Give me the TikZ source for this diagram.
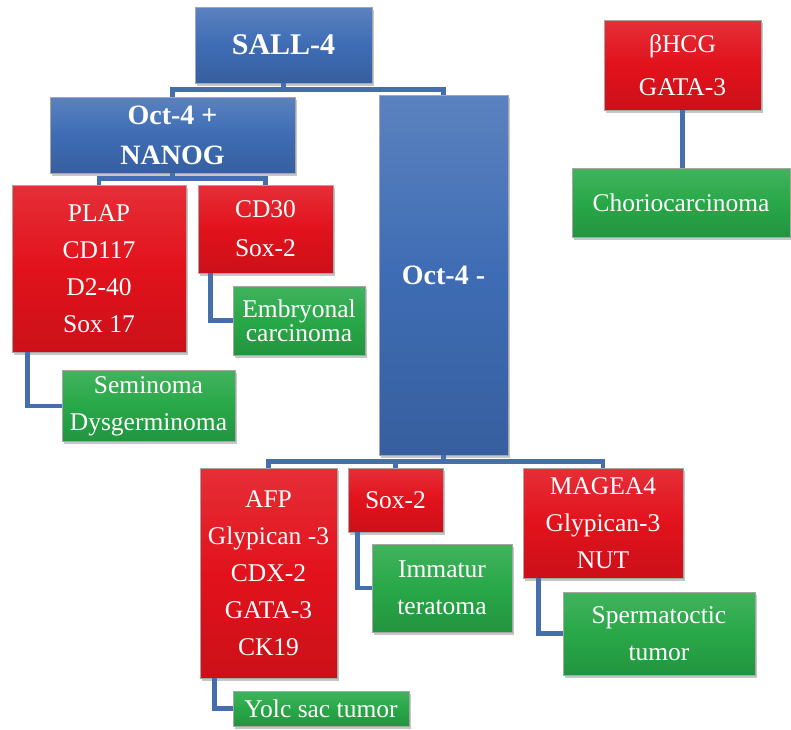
\documentclass[tikz,border=0pt]{standalone}
\usepackage{fontspec}
\setmainfont{Liberation Serif}
\usepackage{tikz}
\usetikzlibrary{shadows}
\definecolor{boxblue}{RGB}{62,108,180}
\definecolor{boxred}{RGB}{226,18,28}
\definecolor{boxgreen}{RGB}{40,168,72}
\definecolor{linkblue}{RGB}{68,110,172}
\tikzset{
	box/.style={
		inner sep=0pt,
		align=center,
		text=white,
		draw=black!35, line width=0.6pt,
		drop shadow={shadow xshift=2pt, shadow yshift=-2.5pt, opacity=.45},
	},
	bluebox/.style={
		box,
		top color=boxblue!85!white, bottom color=boxblue!88!black,
		middle color=boxblue,
		font=\bfseries\fontsize{28}{40}\selectfont,
	},
	redbox/.style={
		box,
		top color=boxred!88!white, bottom color=boxred!90!black,
		middle color=boxred,
		font=\fontsize{25.5}{37}\selectfont,
	},
	greenbox/.style={
		box,
		top color=boxgreen!88!white, bottom color=boxgreen!88!black,
		middle color=boxgreen,
		font=\fontsize{25.5}{37}\selectfont,
	},
	link/.style={
		draw=linkblue, line width=4.5pt,
	},
}

\begin{document}
\begin{tikzpicture}[x=1pt,y=-1pt]
			\useasboundingbox (0,0) rectangle (791,729);
			
			% Markers
			\node[bluebox, minimum width=177pt, minimum height=76pt, font=\bfseries\fontsize{30}{40}\selectfont] (sall) at (283.5,45) {SALL-4};
			\node[bluebox, minimum width=245pt, minimum height=76pt] (octp) at (172.5,135) {Oct-4 +\\NANOG};
			\node[bluebox, minimum width=129pt, minimum height=360pt] (octm) at (443.5,275) {Oct-4 -};
			\node[redbox, minimum width=157pt, minimum height=90pt, font=\fontsize{25.5}{43}\selectfont] (hcg) at (682.5,65) {βHCG\\GATA-3};
			
			\node[redbox, minimum width=174pt, minimum height=167pt] (plap) at (99,268.5) {PLAP\\CD117\\D2-40\\Sox 17};
			\node[redbox, minimum width=135pt, minimum height=88pt, font=\fontsize{25.5}{39}\selectfont] (cd30) at (265.5,229) {CD30\\Sox-2};
			\node[redbox, minimum width=137pt, minimum height=210pt] (afp) at (268.5,573) {AFP\\Glypican -3\\CDX-2\\GATA-3\\CK19};
			\node[redbox, minimum width=95pt, minimum height=64pt] (sox) at (395.5,500) {Sox-2};
			\node[redbox, minimum width=160pt, minimum height=110pt] (mage) at (603,523) {MAGEA4\\Glypican-3\\NUT};
			
			% Tumors
			\node[greenbox, minimum width=218pt, minimum height=69pt] (chor) at (681,202.5) {Choriocarcinoma};
			\node[greenbox, minimum width=132pt, minimum height=69pt, font=\fontsize{25.5}{24}\selectfont] (embr) at (299,320.5) {Embryonal\\carcinoma};
			\node[greenbox, minimum width=173pt, minimum height=71pt] (semi) at (148.5,406) {Seminoma\\Dysgerminoma};
			\node[greenbox, minimum width=140pt, minimum height=88pt] (imma) at (442,588) {Immatur\\teratoma};
			\node[greenbox, minimum width=176pt, minimum height=35pt] (yolk) at (321,708.5) {Yolc sac tumor};
			\node[greenbox, minimum width=192pt, minimum height=83pt] (sper) at (659,633.5) {Spermatoctic\\tumor};
			
			% Tree links
			\draw[link] (sall.south) -- ++(0,6) -| (octp.north);
			\draw[link] (sall.south) -- ++(0,6) -| (octm.north);
			\draw[link] (octp.south) -- ++(0,5) -| (plap.north);
			\draw[link] (octp.south) -- ++(0,5) -| (cd30.north);
			\draw[link] (octm.south) -- ++(0,6) -| (afp.north);
			\draw[link] (octm.south) -- ++(0,6) -| (sox.north);
			\draw[link] (octm.south) -- ++(0,6) -| (mage.north);
			
			% Elbow links to tumors
			\draw[link] ([xshift=16pt]plap.south west) |- (semi.west);
			\draw[link] ([xshift=13pt]cd30.south west) |- (embr.west);
			\draw[link] ([xshift=15pt]afp.south west) |- (yolk.west);
			\draw[link] ([xshift=10pt]sox.south west) |- (imma.west);
			\draw[link] ([xshift=16pt]mage.south west) |- (sper.west);
			\draw[link] (hcg.south) -- (hcg.south |- chor.north);
		\end{tikzpicture}
\end{document}
